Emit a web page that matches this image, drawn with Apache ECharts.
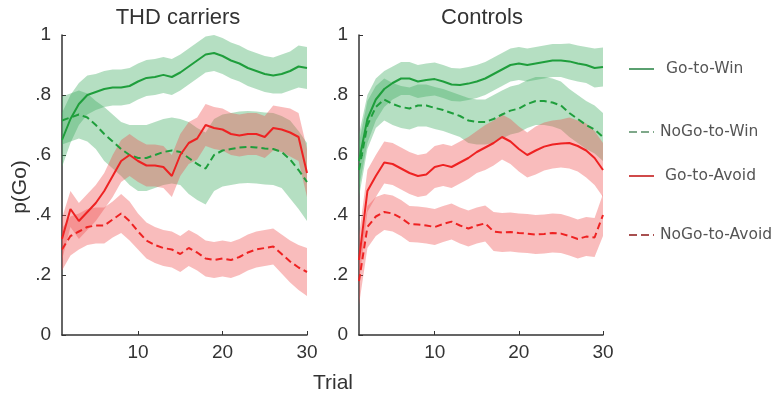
<!DOCTYPE html>
<html>
<head>
<meta charset="utf-8">
<script src="https://cdn.jsdelivr.net/npm/echarts@6/dist/echarts.min.js"></script>
<style>html,body{margin:0;padding:0;background:#fff}#c{width:777px;height:399px}</style>
</head>
<body>
<div id="c"></div>
<script>
// Trials
const trials = [1,2,3,4,5,6,7,8,9,10,11,12,13,14,15,16,17,18,19,20,21,22,23,24,25,26,27,28,29,30];
const xTicks = [10, 20, 30];
const yTickLabels = ['0', '.2', '.4', '.6', '.8', '1'];
const panelTitles = ['THD carriers', 'Controls'];
const conditions = ['Go-to-Win', 'NoGo-to-Win', 'Go-to-Avoid', 'NoGo-to-Avoid'];

// THD carriers: mean p(Go) and band half-width
const thdGoWin      = [0.65,0.72,0.77,0.80,0.81,0.82,0.825,0.825,0.83,0.845,0.857,0.86,0.867,0.86,0.875,0.895,0.915,0.935,0.94,0.93,0.915,0.905,0.89,0.88,0.87,0.865,0.87,0.88,0.895,0.89];
const thdGoWinCI    = [0.09,0.08,0.07,0.065,0.06,0.06,0.06,0.06,0.06,0.06,0.06,0.06,0.06,0.06,0.06,0.06,0.06,0.06,0.06,0.06,0.06,0.06,0.06,0.06,0.06,0.06,0.065,0.065,0.07,0.07];
const thdNoGoWin    = [0.715,0.725,0.735,0.725,0.70,0.67,0.645,0.62,0.60,0.59,0.59,0.60,0.61,0.615,0.61,0.59,0.57,0.555,0.60,0.615,0.62,0.625,0.627,0.625,0.622,0.62,0.61,0.585,0.55,0.51];
const thdNoGoWinCI  = [0.08,0.08,0.08,0.08,0.08,0.09,0.09,0.09,0.10,0.11,0.11,0.11,0.11,0.11,0.11,0.12,0.12,0.12,0.12,0.12,0.12,0.12,0.12,0.12,0.12,0.12,0.12,0.13,0.13,0.13];
const thdGoAvoid    = [0.32,0.42,0.38,0.41,0.44,0.48,0.53,0.58,0.60,0.58,0.565,0.565,0.56,0.53,0.60,0.64,0.655,0.70,0.69,0.685,0.67,0.665,0.67,0.67,0.66,0.69,0.685,0.675,0.66,0.54];
const thdGoAvoidCI  = [0.07,0.06,0.06,0.06,0.06,0.06,0.07,0.07,0.07,0.07,0.07,0.07,0.07,0.07,0.07,0.07,0.07,0.07,0.07,0.07,0.07,0.07,0.07,0.07,0.07,0.075,0.075,0.08,0.08,0.08];
const thdNoGoAvoid  = [0.285,0.33,0.345,0.36,0.365,0.365,0.385,0.405,0.38,0.345,0.315,0.30,0.29,0.285,0.27,0.29,0.275,0.255,0.25,0.255,0.25,0.26,0.275,0.285,0.29,0.295,0.27,0.245,0.225,0.21];
const thdNoGoAvoidCI= [0.07,0.065,0.06,0.06,0.06,0.06,0.06,0.065,0.065,0.06,0.06,0.06,0.06,0.06,0.06,0.06,0.06,0.06,0.06,0.06,0.06,0.06,0.06,0.06,0.06,0.06,0.065,0.07,0.075,0.08];

// Controls
const ctlGoWin      = [0.58,0.72,0.785,0.82,0.84,0.855,0.855,0.845,0.85,0.853,0.845,0.835,0.833,0.838,0.845,0.855,0.87,0.885,0.90,0.905,0.90,0.905,0.91,0.915,0.915,0.912,0.905,0.90,0.89,0.893];
const ctlGoWinCI    = [0.09,0.08,0.07,0.06,0.055,0.055,0.055,0.055,0.055,0.055,0.055,0.055,0.055,0.055,0.055,0.055,0.055,0.055,0.055,0.055,0.055,0.055,0.055,0.055,0.055,0.06,0.06,0.06,0.065,0.065];
const ctlNoGoWin    = [0.55,0.70,0.76,0.785,0.77,0.76,0.755,0.765,0.765,0.757,0.75,0.74,0.73,0.715,0.71,0.71,0.72,0.735,0.748,0.755,0.77,0.78,0.78,0.775,0.765,0.74,0.72,0.70,0.685,0.66];
const ctlNoGoWinCI  = [0.09,0.08,0.07,0.07,0.07,0.07,0.07,0.07,0.07,0.07,0.07,0.07,0.07,0.075,0.075,0.075,0.08,0.08,0.08,0.08,0.08,0.08,0.08,0.08,0.08,0.08,0.08,0.08,0.08,0.08];
const ctlGoAvoid    = [0.25,0.48,0.53,0.575,0.57,0.555,0.54,0.53,0.535,0.56,0.567,0.56,0.575,0.59,0.61,0.625,0.64,0.66,0.645,0.62,0.60,0.615,0.628,0.635,0.638,0.64,0.63,0.615,0.59,0.55];
const ctlGoAvoidCI  = [0.08,0.07,0.07,0.07,0.07,0.07,0.07,0.07,0.07,0.07,0.07,0.07,0.07,0.07,0.07,0.075,0.075,0.075,0.075,0.075,0.075,0.08,0.08,0.08,0.08,0.085,0.085,0.09,0.09,0.09];
const ctlNoGoAvoid  = [0.18,0.36,0.395,0.41,0.405,0.39,0.37,0.368,0.365,0.36,0.37,0.378,0.365,0.355,0.365,0.372,0.345,0.342,0.343,0.34,0.338,0.335,0.337,0.34,0.338,0.33,0.32,0.328,0.325,0.40];
const ctlNoGoAvoidCI= [0.08,0.07,0.065,0.06,0.06,0.06,0.06,0.06,0.06,0.06,0.06,0.06,0.06,0.06,0.06,0.06,0.065,0.065,0.065,0.065,0.065,0.065,0.065,0.065,0.065,0.065,0.065,0.065,0.065,0.07];

const panels = [
  [thdGoWin, thdNoGoWin, thdGoAvoid, thdNoGoAvoid],
  [ctlGoWin, ctlNoGoWin, ctlGoAvoid, ctlNoGoAvoid]
];
const panelsCI = [
  [thdGoWinCI, thdNoGoWinCI, thdGoAvoidCI, thdNoGoAvoidCI],
  [ctlGoWinCI, ctlNoGoWinCI, ctlGoAvoidCI, ctlNoGoAvoidCI]
];

const lineColors = ['#1f9e3c', '#1f9e3c', '#ee2222', '#ee2222'];
const lineTypes = ['solid', [7,4], 'solid', [7,4]];
const bandColors = ['rgba(60,172,95,0.38)', 'rgba(60,172,95,0.38)', 'rgba(238,80,80,0.38)', 'rgba(238,80,80,0.38)'];
const legendColors = ['#5aa070', '#7fa88a', '#d04a4a', '#a85050'];
const legendTops = [61, 124, 168, 227];
const legendPad = [7, 1, 6, 1];

function bandRender(params, api) {
  if (params.dataIndexInside !== 0) return null;
  const n = params.dataInsideLength;
  const upper = [], lower = [];
  for (let i = 0; i < n; i++) {
    const t = api.value(0, i);
    upper.push(api.coord([t, api.value(2, i)]));
    lower.push(api.coord([t, api.value(1, i)]));
  }
  const pts = upper.concat(lower.reverse());
  return {
    type: 'polygon',
    shape: {points: pts},
    style: {fill: api.visual('color'), stroke: null}
  };
}

const series = [];
for (let p = 0; p < 2; p++) {
  for (let c = 0; c < 4; c++) {
    const m = panels[p][c], ci = panelsCI[p][c];
    series.push({
      type: 'custom', name: 'band' + p + c, xAxisIndex: p, yAxisIndex: p,
      data: trials.map((t, i) => [t, m[i] - ci[i], m[i] + ci[i]]),
      encode: {x: 0, y: [1, 2]},
      renderItem: bandRender,
      itemStyle: {color: bandColors[c]},
      silent: true, z: 1
    });
  }
}
for (let p = 0; p < 2; p++) {
  for (let c = 0; c < 4; c++) {
    const m = panels[p][c];
    series.push({
      type: 'line', name: conditions[c], xAxisIndex: p, yAxisIndex: p,
      data: trials.map((t, i) => [t, m[i]]),
      symbol: 'none', smooth: false,
      lineStyle: {color: lineColors[c], width: 2, type: lineTypes[c]},
      itemStyle: {color: lineColors[c]}, z: 3, silent: true
    });
  }
}

const axisColor = '#333';
const gridDefs = [
  {left: 62, width: 245, top: 35, height: 300},
  {left: 359, width: 244, top: 35, height: 300}
];

const xAxes = gridDefs.map((g, i) => ({
  type: 'value', gridIndex: i, min: 1, max: 30,
  axisLine: {show: true, lineStyle: {color: axisColor, width: 1.5}},
  axisTick: {show: true, inside: true, length: 4, customValues: xTicks, lineStyle: {color: axisColor}},
  axisLabel: {customValues: xTicks, color: '#333', fontSize: 19, fontFamily: 'Liberation Sans', margin: 8},
  splitLine: {show: false}
}));
const yAxes = gridDefs.map((g, i) => ({
  type: 'value', gridIndex: i, min: 0, max: 1, interval: 0.2,
  axisLine: {show: true, lineStyle: {color: axisColor, width: 1.5}},
  axisTick: {show: true, inside: true, length: 4, lineStyle: {color: axisColor}},
  axisLabel: {color: '#333', fontSize: 19, fontFamily: 'Liberation Sans', margin: 11,
    formatter: v => yTickLabels[Math.round(v / 0.2)]},
  splitLine: {show: false}
}));

const legends = conditions.map((name, c) => ({
  orient: 'vertical', left: 628, top: legendTops[c], padding: 0,
  itemWidth: 25, itemHeight: 14, selectedMode: false,
  lineStyle: {color: legendColors[c], width: 2, type: c % 2 ? [8,4] : 'solid'},
  itemStyle: {color: legendColors[c], opacity: 0},
  data: [{name: name}],
  textStyle: {color: '#555', fontSize: 15.5, fontFamily: 'DejaVu Sans', padding: [0, 0, 0, legendPad[c]]}
}));

const chart = echarts.init(document.getElementById('c'), null, {renderer: 'canvas'});
chart.setOption({
  animation: false,
  backgroundColor: '#fff',
  grid: gridDefs,
  xAxis: xAxes,
  yAxis: yAxes,
  legend: legends,
  series: series,
  graphic: [
    {type: 'text', x: 178, y: 18, style: {text: panelTitles[0], textAlign: 'center', textVerticalAlign: 'middle', fontSize: 22, fontFamily: 'Liberation Sans', fill: '#333'}},
    {type: 'text', x: 482, y: 18, style: {text: panelTitles[1], textAlign: 'center', textVerticalAlign: 'middle', fontSize: 22, fontFamily: 'Liberation Sans', fill: '#333'}},
    {type: 'text', x: 333, y: 383, style: {text: 'Trial', textAlign: 'center', textVerticalAlign: 'middle', fontSize: 21, fontFamily: 'Liberation Sans', fill: '#333'}},
    {type: 'text', rotation: Math.PI / 2, x: 20, y: 187, style: {text: 'p(Go)', textAlign: 'center', textVerticalAlign: 'middle', fontSize: 21, fontFamily: 'Liberation Sans', fill: '#333'}}
  ]
});
</script>
</body>
</html>
